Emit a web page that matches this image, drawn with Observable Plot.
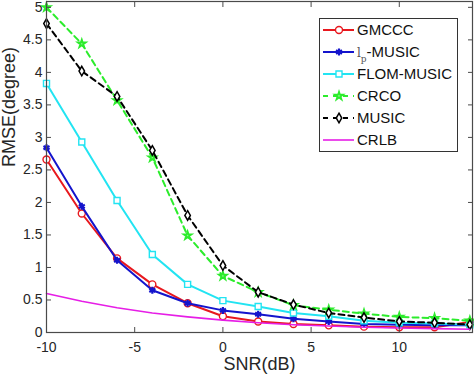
<!DOCTYPE html>
<html><head><meta charset="utf-8">
<script src="https://cdn.jsdelivr.net/npm/d3@7"></script>
<script src="https://cdn.jsdelivr.net/npm/@observablehq/plot@0.6"></script>
<style>
body{margin:0;background:#fff;}
#wrap{position:relative;width:474px;height:378px;font-family:"Liberation Sans",Arial,sans-serif;color:#262626;}
#legend{position:absolute;left:319px;top:18px;width:139px;height:134px;border:1px solid #333;background:#fff;box-sizing:border-box;}
.row{position:absolute;left:0;height:22px;width:137px;}
.row svg{position:absolute;left:0;top:0;}
.row span.t{position:absolute;left:37px;top:2px;font-size:15px;line-height:18px;color:#111;white-space:nowrap;}
</style></head><body><div id="wrap"></div>
<script>
// ---- data ----
const snr = [-10,-8,-6,-4,-2,0,2,4,6,8,10,12,14];
const gmccc = [2.66,1.83,1.14,0.74,0.45,0.25,0.17,0.13,0.11,0.09,0.08,0.08,0.16];
const lpMusic = [2.84,1.94,1.11,0.65,0.45,0.34,0.28,0.21,0.17,0.13,0.12,0.11,0.11];
const flomMusic = [3.83,2.93,2.03,1.20,0.74,0.49,0.40,0.30,0.25,0.18,0.15,0.14,0.12];
const crco = [5.0,4.44,3.57,2.69,1.49,0.87,0.62,0.42,0.35,0.29,0.24,0.22,0.18];
const music = [4.75,4.02,3.63,2.80,1.80,1.03,0.62,0.43,0.30,0.23,0.17,0.15,0.12];
const crlb = [0.60,0.48,0.38,0.30,0.24,0.19,0.15,0.12,0.10,0.08,0.07,0.06,0.05];
const seriesNames = ["GMCCC","lp-MUSIC","FLOM-MUSIC","CRCO","MUSIC","CRLB"];
const xTicks = [-10,-5,0,5,10];
const yTicks = [0,0.5,1,1.5,2,2.5,3,3.5,4,4.5,5];
const xLabel = "SNR(dB)";
const yLabel = "RMSE(degree)";

// ---- styles ----
const seriesValues = [gmccc, lpMusic, flomMusic, crco, music, crlb];
const styles = [
  {color:"#e8181e", symbol:"circle", fill:"white", dash:null, r:3.5, sw:1.4},
  {color:"#1414cc", symbol:"asterisk", fill:"none", dash:null, r:3.3, sw:2.2},
  {color:"#22e4f2", symbol:"square", fill:"white", dash:null, r:3.4, sw:1.4},
  {color:"#2cec2c", symbol:"star", fill:"#9cf59c", dash:"6,4", r:2.5, sw:1.8},
  {color:"#000000", symbol:"diamond", fill:"white", dash:"6,4", r:2.9, sw:1.5},
  {color:"#e61ee6", symbol:null, fill:"none", dash:null, r:0, sw:1.6}
];
const tables = seriesValues.map(vals => snr.map((x, i) => ({x, y: vals[i]})));

const marks = [];
tables.forEach((rows, k) => {
  const s = styles[k];
  marks.push(Plot.line(rows, {x:"x", y:"y", stroke:s.color, strokeWidth: k===5?1.6:2, strokeDasharray:s.dash}));
  if (s.symbol) marks.push(Plot.dot(rows, {x:"x", y:"y", symbol:s.symbol, r:s.r, stroke:s.color, fill:s.fill, strokeWidth:s.sw}));
});

const axisColor = "#4a4a4a";
const chart = Plot.plot({
  width: 474, height: 378,
  marginTop: 1, marginRight: 2, marginBottom: 46, marginLeft: 46,
  style: {fontFamily: "'Liberation Sans', Arial, sans-serif", fontSize: "14px", color: "#262626", background:"white"},
  x: {domain: [-10, 14.15]},
  y: {domain: [0, 5.09]},
  marks: [
    ...marks,
    Plot.frame({stroke: axisColor, strokeWidth: 1.2}),
    Plot.axisY({anchor:"left", ticks:yTicks, tickSize:0, tickPadding:4, tickFormat:d=>String(d), label:null, fontSize:14}),
    Plot.axisX({anchor:"bottom", ticks:xTicks, tickSize:0, tickPadding:10, tickFormat:d=>String(d), label:null, fontSize:14}),
    Plot.axisY({anchor:"left", ticks:yTicks, tickSize:5, dx:5, text:null, label:null, stroke:axisColor}),
    Plot.axisY({anchor:"right", ticks:yTicks, tickSize:5, dx:-5, text:null, label:null, stroke:axisColor}),
    Plot.axisX({anchor:"bottom", ticks:xTicks, tickSize:5, dy:-5, text:null, label:null, stroke:axisColor}),
    Plot.axisX({anchor:"top", ticks:xTicks, tickSize:5, dy:5, text:null, label:null, stroke:axisColor}),
    Plot.text([yLabel], {text:d=>d, frameAnchor:"left", dx:-37, rotate:-90, fontSize:18, fill:"#262626"}),
    Plot.text([xLabel], {text:d=>d, frameAnchor:"bottom", dy:37, fontSize:18, fill:"#262626"})
  ]
});
const wrap = document.getElementById("wrap");
wrap.appendChild(chart);

// ---- legend ----
const legend = document.createElement("div");
legend.id = "legend";
const symMap = {circle:d3.symbolCircle, asterisk:d3.symbolAsterisk, square:d3.symbolSquare, star:d3.symbolStar, diamond:d3.symbolDiamond};
seriesNames.forEach((name, k) => {
  const s = styles[k];
  const row = document.createElement("div");
  row.className = "row";
  row.style.top = (k*21.9) + "px";
  const svg = d3.create("svg").attr("width", 36).attr("height", 22);
  svg.append("line").attr("x1", 3).attr("x2", 34).attr("y1", 11).attr("y2", 11)
    .attr("stroke", s.color).attr("stroke-width", k===5?1.6:2).attr("stroke-dasharray", s.dash ? "5,5" : null);
  if (s.symbol) {
    svg.append("path").attr("transform", "translate(19,11)")
      .attr("d", d3.symbol(symMap[s.symbol], Math.PI * s.r * s.r)())
      .attr("stroke", s.color).attr("fill", s.fill).attr("stroke-width", s.sw);
  }
  row.appendChild(svg.node());
  const t = document.createElement("span");
  t.className = "t";
  if (name === "lp-MUSIC") {
    t.innerHTML = '<span style="font-family:\'DejaVu Serif\',serif;font-size:12px;color:#555">l</span><span style="font-family:\'DejaVu Serif\',serif;font-size:9px;position:relative;top:5px;color:#555">p</span>-MUSIC';
  } else t.textContent = name;
  row.appendChild(t);
  legend.appendChild(row);
});
wrap.appendChild(legend);
</script></body></html>
